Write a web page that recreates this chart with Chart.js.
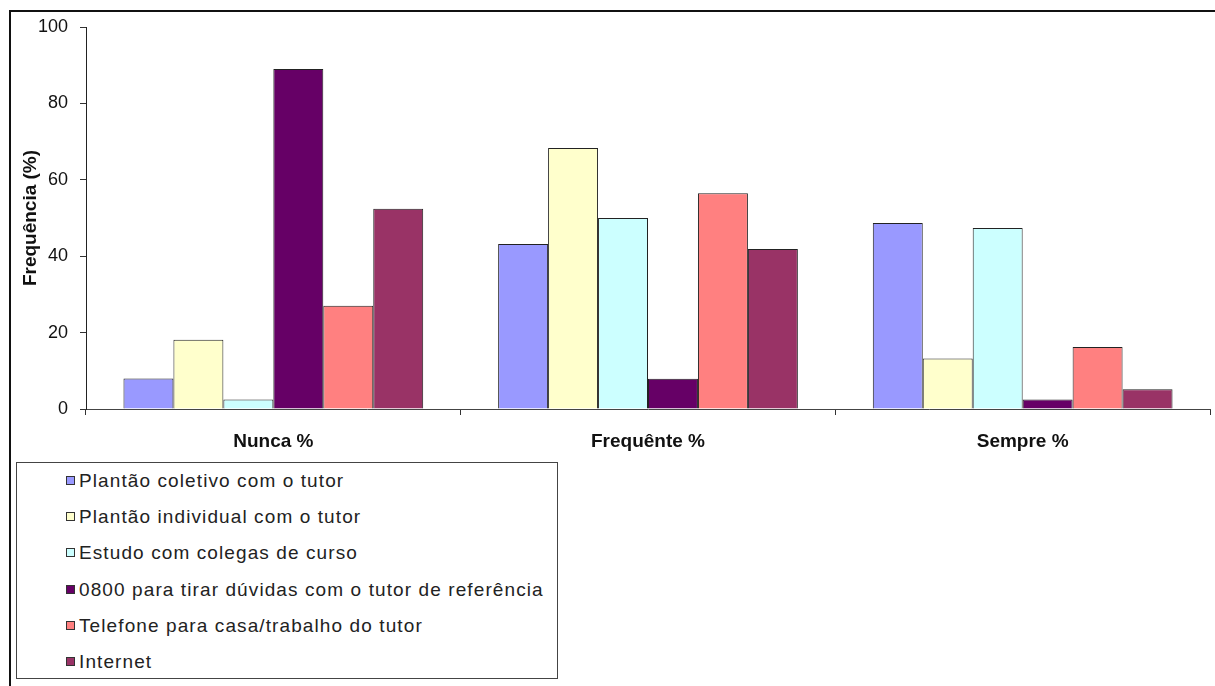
<!DOCTYPE html>
<html>
<head>
<meta charset="utf-8">
<script src="https://cdn.jsdelivr.net/npm/chart.js@4"></script>
<style>
    body { margin: 0; background: #fff; font-family: "Liberation Sans", Arial, sans-serif; }
    #frame { position: absolute; left: 9px; top: 10px; width: 1220px; height: 700px; border-left: 2px solid #111; border-top: 2px solid #111; }
    #wrap { position: absolute; left: 0; top: 0; width: 1215px; height: 455px; }
    #legend { position: absolute; left: 16px; top: 462px; width: 542px; height: 217px; border: 1px solid #444; box-sizing: border-box; }
    .item { height: 36.2px; line-height: 36.2px; font-size: 19px; letter-spacing: 1.1px; color: #222; padding-left: 49px; white-space: nowrap; }
    .swatch { display: inline-block; width: 7px; height: 7px; border: 1px solid #333; margin-right: 4px; vertical-align: 2px; }
</style>
</head>
<body>
<div id="frame"></div>
<div id="wrap"><canvas id="barChart"></canvas></div>
<div id="legend"></div>
<script>
let categories = ['Nunca %', 'Frequênte %', 'Sempre %'];
let seriesNames = [
    'Plantão coletivo com o tutor',
    'Plantão individual com o tutor',
    'Estudo com colegas de curso',
    '0800 para tirar dúvidas com o tutor de referência',
    'Telefone para casa/trabalho do tutor',
    'Internet'
];
let seriesColors = ['#9999ff', '#ffffcc', '#ccffff', '#660066', '#ff8080', '#993366'];
let coletivo = [8.0, 43.2, 48.7];
let individual = [18.1, 68.3, 13.2];
let colegas = [2.5, 50.0, 47.4];
let linha0800 = [89.0, 7.9, 2.5];
let telefone = [27.0, 56.5, 16.2];
let internet = [52.4, 41.9, 5.2];
let seriesValues = [coletivo, individual, colegas, linha0800, telefone, internet];
let yTicks = [0, 20, 40, 60, 80, 100];

let datasets = [];
for (let i = 0; i < seriesNames.length; i++) {
    datasets.push({
        label: seriesNames[i],
        data: seriesValues[i],
        backgroundColor: seriesColors[i],
        borderColor: '#222',
        borderWidth: 1,
        borderSkipped: 'bottom',
        categoryPercentage: 0.8,
        barPercentage: 1.0
    });
}

let barChart = new Chart(document.getElementById('barChart'), {
    type: 'bar',
    data: { labels: categories, datasets: datasets },
    options: {
        responsive: true,
        maintainAspectRatio: false,
        animation: false,
        layout: { padding: { left: 0, top: 27, right: 5, bottom: 0 } },
        plugins: { legend: { display: false }, tooltip: { enabled: false } },
        scales: {
            x: {
                afterFit: (scale) => { scale.height = 46; },
                grid: { drawOnChartArea: false, color: '#333', tickLength: 6, offset: true },
                border: { color: '#444', width: 1 },
                ticks: { color: '#111', padding: 15, font: { family: 'Liberation Sans', size: 19, weight: 'bold' } }
            },
            y: {
                min: 0,
                max: 100,
                afterFit: (scale) => { scale.width = 86; },
                afterBuildTicks: (scale) => { scale.ticks = yTicks.map(v => ({ value: v })); },
                grid: { drawOnChartArea: false, color: '#333', tickLength: 6 },
                border: { color: '#222', width: 1 },
                ticks: { color: '#111', padding: 12, font: { family: 'Liberation Sans', size: 18 } },
                title: {
                    display: true,
                    text: 'Frequência (%)',
                    color: '#111',
                    padding: { top: 19, bottom: 0 },
                    font: { family: 'Liberation Sans', size: 19, weight: 'bold' }
                }
            }
        }
    }
});

// legend, one entry per row like the original
let legend = document.getElementById('legend');
for (let i = 0; i < seriesNames.length; i++) {
    let row = document.createElement('div');
    row.className = 'item';
    let box = document.createElement('span');
    box.className = 'swatch';
    box.style.background = seriesColors[i];
    row.appendChild(box);
    row.appendChild(document.createTextNode(seriesNames[i]));
    legend.appendChild(row);
}
</script>
</body>
</html>
